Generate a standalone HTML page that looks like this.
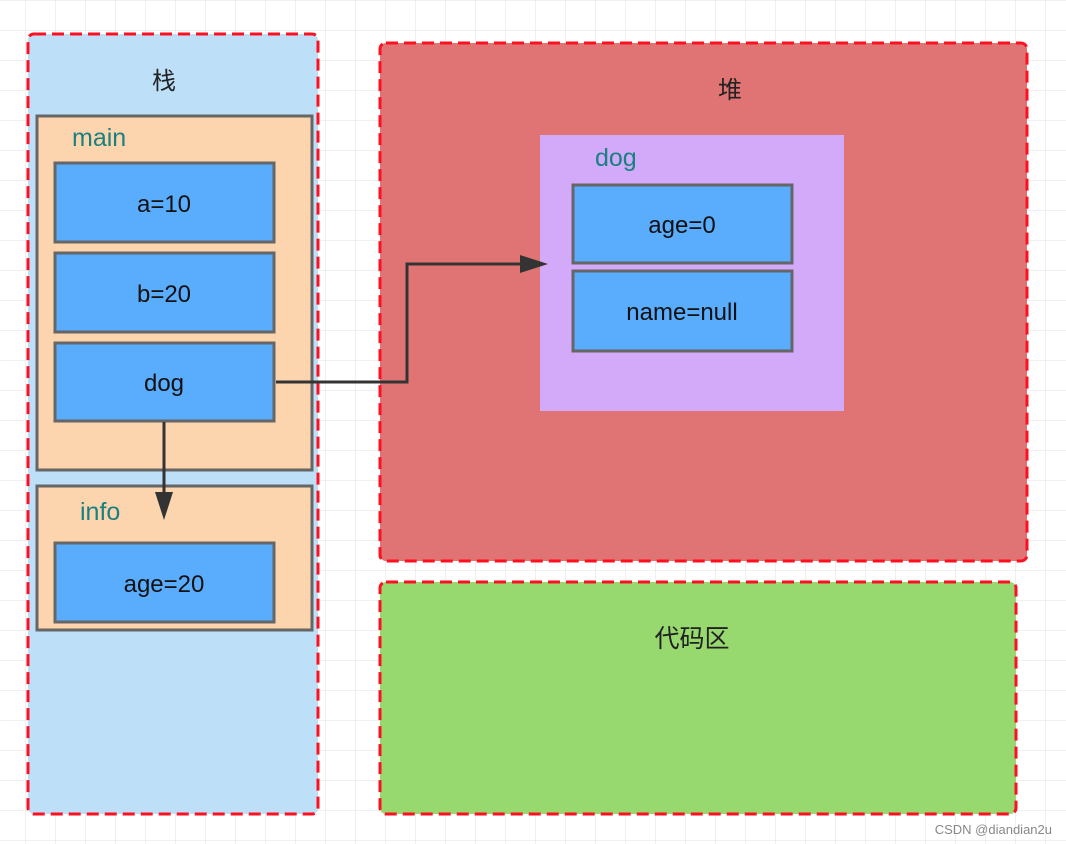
<!DOCTYPE html>
<html><head><meta charset="utf-8"><style>
html,body{margin:0;padding:0;background:#fff}
svg{display:block}
text{font-family:"Liberation Sans","Noto Sans CJK SC",sans-serif}
</style></head><body>
<svg width="1066" height="844" viewBox="0 0 1066 844" xmlns="http://www.w3.org/2000/svg">
<defs>
<pattern id="g" x="25" y="0" width="30" height="30" patternUnits="userSpaceOnUse">
<path d="M0 0V30M0 0H30" stroke="#ebebeb" stroke-width="1.5" fill="none"/>
</pattern>
</defs>
<rect width="1066" height="844" fill="#fff"/>
<rect width="1066" height="844" fill="url(#g)"/>
<rect x="28" y="34" width="290" height="780" rx="6" fill="#bedff8" stroke="#ff1020" stroke-width="3" stroke-dasharray="12,6"/>
<rect x="380" y="43" width="647" height="518" rx="6" fill="#e07474" stroke="#ff1020" stroke-width="3" stroke-dasharray="12,6"/>
<rect x="380" y="582" width="636" height="232" rx="6" fill="#97d86f" stroke="#ff1020" stroke-width="3" stroke-dasharray="12,6"/>
<text x="164" y="89" font-size="24" text-anchor="middle" fill="#222">栈</text>
<text x="730" y="98" font-size="24" text-anchor="middle" fill="#222">堆</text>
<text x="692" y="647" font-size="25" text-anchor="middle" fill="#222">代码区</text>
<rect x="37" y="116" width="275" height="354" fill="#fcd4ae" stroke="#666" stroke-width="3"/>
<text x="72" y="146" font-size="25" fill="#1a8080">main</text>
<rect x="37" y="486" width="275" height="144" fill="#fcd4ae" stroke="#666" stroke-width="3"/>
<text x="80" y="520" font-size="25" fill="#1a8080">info</text>
<g stroke="#666" stroke-width="3" fill="#5aacfd">
<rect x="55" y="163" width="219" height="79"/>
<rect x="55" y="253" width="219" height="79"/>
<rect x="55" y="343" width="219" height="78"/>
<rect x="55" y="543" width="219" height="79"/>
</g>
<rect x="540" y="135" width="304" height="276" fill="#d3a9f9"/>
<text x="595" y="166" font-size="25" fill="#1a8080">dog</text>
<g stroke="#666" stroke-width="3" fill="#5aacfd">
<rect x="573" y="185" width="219" height="78"/>
<rect x="573" y="271" width="219" height="80"/>
</g>
<g font-size="24" text-anchor="middle" fill="#111">
<text x="164" y="212">a=10</text>
<text x="164" y="302">b=20</text>
<text x="164" y="391">dog</text>
<text x="164" y="592">age=20</text>
<text x="682" y="233">age=0</text>
<text x="682" y="320">name=null</text>
</g>
<path d="M276 382H407V264H522" stroke="#333" stroke-width="3" fill="none"/>
<path d="M520 255L548 264L520 273Z" fill="#333"/>
<path d="M164 422V494" stroke="#333" stroke-width="3" fill="none"/>
<path d="M155 492L164 520L173 492Z" fill="#333"/>
<text x="1052" y="834" font-size="13" text-anchor="end" fill="#888">CSDN @diandian2u</text>
</svg>
</body></html>
